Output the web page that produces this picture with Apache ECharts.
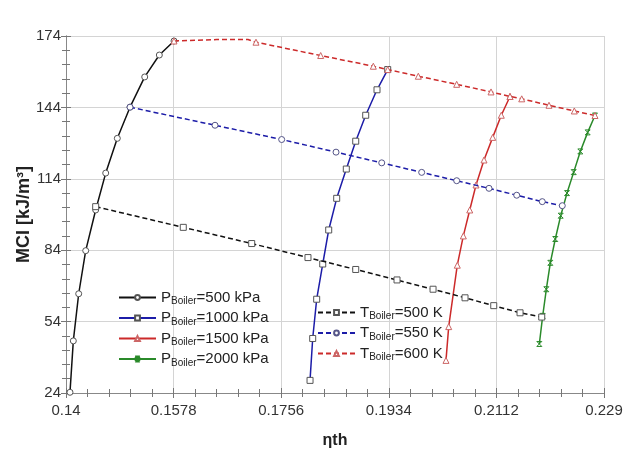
<!DOCTYPE html>
<html>
<head>
<meta charset="utf-8">
<script src="https://cdn.jsdelivr.net/npm/echarts@6/dist/echarts.min.js"></script>
<style>
  html, body { margin: 0; background: #fff; }
  #chart { width: 640px; height: 453px; }
</style>
</head>
<body>
<div id="chart"></div>
<script>
// tick labels (axis runs 0.14..0.229 and 24..174 in 5 even steps)
var xTicks = ['0.14', '0.1578', '0.1756', '0.1934', '0.2112', '0.229'];
var yTicks = ['24', '54', '84', '114', '144', '174'];

// constant boiler pressure curves (solid)
var p500X = [0.14066, 0.14121, 0.1421, 0.14326, 0.14491, 0.14657, 0.14849, 0.15059, 0.15302, 0.15544, 0.15787];
var p500Y = [24.3, 45.9, 65.7, 83.8, 100.9, 116.4, 131.0, 144.1, 156.8, 166.0, 171.9];
var p1000X = [0.18037, 0.18081, 0.18147, 0.18247, 0.18346, 0.18478, 0.18637, 0.18793, 0.18958, 0.19145, 0.19322];
var p1000Y = [29.3, 46.9, 63.4, 78.2, 92.5, 105.8, 118.1, 129.8, 140.7, 151.4, 159.9];
var p1500X = [0.20286, 0.20331, 0.20473, 0.20573, 0.20679, 0.20783, 0.20915, 0.21059, 0.21201, 0.21345];
var p1500Y = [37.7, 51.9, 77.7, 90.0, 100.9, 111.4, 121.9, 131.4, 140.7, 148.6];
var p2000X = [0.2183, 0.21886, 0.21946, 0.22012, 0.22094, 0.22184, 0.22288, 0.22399, 0.22508, 0.2263, 0.22751];
var p2000Y = [44.6, 56.4, 67.6, 78.7, 88.7, 98.5, 108.0, 116.8, 125.5, 133.5, 140.6];

// constant boiler temperature curves (dashed)
var t500X = [0.14491, 0.1594, 0.17072, 0.18003, 0.18793, 0.19476, 0.20072, 0.20601, 0.21076, 0.21511, 0.2187];
var t500Y = [102.3, 93.6, 86.8, 80.9, 75.9, 71.5, 67.6, 64.0, 60.7, 57.7, 55.9];
var t550X = [0.15059, 0.16465, 0.17568, 0.18467, 0.19223, 0.19884, 0.20463, 0.20998, 0.21456, 0.21879, 0.2221];
var t550Y = [144.1, 136.5, 130.5, 125.2, 120.7, 116.7, 113.2, 110.0, 107.1, 104.4, 102.7];
var t600X = [0.15787, 0.16493, 0.17011, 0.17143, 0.18213, 0.19084, 0.19322, 0.19828, 0.20463, 0.21031, 0.21345, 0.21539, 0.2199, 0.22409, 0.22751];
var t600Y = [171.9, 172.5, 172.5, 171.4, 165.8, 161.3, 159.9, 157.1, 153.7, 150.5, 148.6, 147.6, 144.9, 142.5, 140.6];
var t600NoMark = [1, 2];

var pNames = ['PBoiler=500 kPa', 'PBoiler=1000 kPa', 'PBoiler=1500 kPa', 'PBoiler=2000 kPa'];
var tNames = ['TBoiler=500 K', 'TBoiler=550 K', 'TBoiler=600 K'];

var BLACK = '#111', BLUE = '#1c1ca8', RED = '#cc2a2a', GREEN = '#2a8a2a';
var CROSS = 'path://M0,0L10,10M10,0L0,10M0,0L10,0M0,10L10,10';

function pts(xs, ys, noMark) {
  return xs.map(function (x, i) {
    var d = { value: [x, ys[i]] };
    if (noMark && noMark.indexOf(i) >= 0) d.symbol = 'none';
    return d;
  });
}

function line(name, xs, ys, color, symbol, dashed, noMark, edge) {
  var fill = symbol === CROSS ? color : '#fff';
  return {
    name: name,
    type: 'line',
    xAxisIndex: 2,
    yAxisIndex: 2,
    data: pts(xs, ys, noMark),
    symbol: symbol,
    symbolSize: symbol === CROSS ? 5 : 6,
    showAllSymbol: true,
    animation: false,
    lineStyle: { color: color, width: 1.5, type: dashed ? [5, 3] : 'solid' },
    itemStyle: { color: fill, borderColor: edge || color, borderWidth: 1 },
    z: dashed ? 3 : 2
  };
}

var chart = echarts.init(document.getElementById('chart'));

var font = 'Liberation Sans, Arial, sans-serif';
var rich = {
  a: { fontSize: 15, fontFamily: font, color: '#222', lineHeight: 18, verticalAlign: 'middle' },
  s: { fontSize: 10, fontFamily: font, color: '#222', lineHeight: 10, verticalAlign: 'bottom' }
};
function legendFmt(name) {
  return '{a|' + name.charAt(0) + '}{s|Boiler}{a|' + name.slice(7) + '}';
}

function dispAxis(pos, labels, extra) {
  var a = {
    type: 'value',
    position: pos,
    min: 0,
    max: 5,
    interval: 1,
    axisLine: { show: true, lineStyle: { color: '#888', width: 1 } },
    axisTick: { show: true, inside: true, length: 5, lineStyle: { color: '#777' } },
    minorTick: { show: true, splitNumber: 5, length: 4, lineStyle: { color: '#777' } },
    splitLine: { show: false },
    axisLabel: { show: false }
  };
  if (labels) {
    a.splitLine = { show: true, lineStyle: { color: '#d4d4d4', width: 1 } };
  }
  return Object.assign(a, extra || {});
}

chart.setOption({
  backgroundColor: '#fff',
  animation: false,
  grid: { left: 66, right: 36, top: 36, bottom: 60, outerBoundsMode: 'none' },
  legend: [
    {
      data: pNames, orient: 'vertical', left: 118, top: 290, padding: 0, itemGap: 4,
      itemWidth: 37, itemHeight: 6, formatter: legendFmt,
      textStyle: { rich: rich }
    },
    {
      data: tNames, orient: 'vertical', left: 317, top: 305, padding: 0, itemGap: 4,
      itemWidth: 37, itemHeight: 6, formatter: legendFmt,
      textStyle: { rich: rich }
    }
  ],
  xAxis: [
    dispAxis('bottom', xTicks, {
      name: 'ηth', nameLocation: 'middle', nameGap: 40, nameMoveOverlap: false,
      nameTextStyle: { fontSize: 16, fontWeight: 'bold', fontFamily: font, color: '#222' },
      axisLabel: { show: true, margin: 10, fontSize: 15, fontFamily: font, color: '#333', formatter: function (v) { return xTicks[v]; } }
    }),
    dispAxis('top'),
    { type: 'value', min: 0.14, max: 0.229, show: false }
  ],
  yAxis: [
    dispAxis('left', yTicks, {
      name: 'MCI [kJ/m³]', nameLocation: 'middle', nameGap: 33, nameRotate: 90, nameMoveOverlap: false,
      nameTextStyle: { fontSize: 18, fontWeight: 'bold', fontFamily: font, color: '#222' },
      axisLabel: { show: true, margin: 5, fontSize: 15, fontFamily: font, color: '#333', formatter: function (v) { return yTicks[v]; } }
    }),
    dispAxis('right'),
    { type: 'value', min: 24, max: 174, show: false }
  ],
  series: [
    line(pNames[0], p500X, p500Y, BLACK, 'circle', false, null, '#555'),
    line(pNames[1], p1000X, p1000Y, BLUE, 'rect', false, null, '#555'),
    line(pNames[2], p1500X, p1500Y, RED, 'triangle', false, null, '#c66'),
    line(pNames[3], p2000X, p2000Y, GREEN, CROSS, false),
    line(tNames[0], t500X, t500Y, BLACK, 'rect', true, null, '#555'),
    line(tNames[1], t550X, t550Y, BLUE, 'circle', true, null, '#558'),
    line(tNames[2], t600X, t600Y, RED, 'triangle', true, t600NoMark, '#c66')
  ]
});
</script>
</body>
</html>
